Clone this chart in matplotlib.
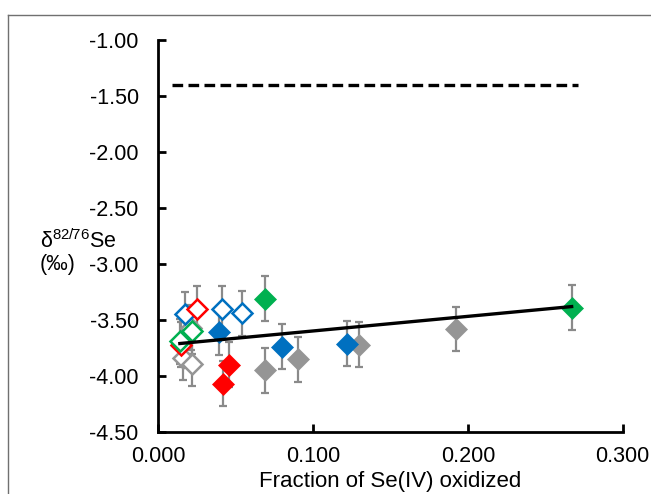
import matplotlib
matplotlib.use("Agg")
import matplotlib.pyplot as plt
from matplotlib.lines import Line2D

# --- data ---
blue_filled_x = [0.039, 0.080, 0.122]
blue_filled_y = [-3.61, -3.74, -3.71]
blue_open_x = [0.017, 0.041, 0.054]
blue_open_y = [-3.45, -3.40, -3.44]
red_filled_x = [0.042, 0.046]
red_filled_y = [-4.07, -3.90]
red_open_x = [0.025, 0.015]
red_open_y = [-3.40, -3.72]
green_filled_x = [0.069, 0.267]
green_filled_y = [-3.31, -3.39]
green_open_x = [0.014, 0.022]
green_open_y = [-3.69, -3.60]
gray_filled_x = [0.069, 0.090, 0.130, 0.192]
gray_filled_y = [-3.95, -3.85, -3.72, -3.58]
gray_open_x = [0.021, 0.016, 0.022]
gray_open_y = [-3.57, -3.84, -3.89]
err = 0.20

trend_x = [0.014, 0.267]
trend_y = [-3.71, -3.38]
ref_x = [0.009, 0.271]
ref_y = [-1.40, -1.40]

x_ticks = [0.0, 0.1, 0.2, 0.3]
y_ticks = [-4.5, -4.0, -3.5, -3.0, -2.5, -2.0, -1.5, -1.0]

BLUE = "#0070C0"
RED = "#FF0000"
GREEN = "#00B050"
GRAY = "#959595"
ERRC = "#8A8A8A"

plt.rcParams["font.family"] = ["Liberation Sans", "DejaVu Sans"]
plt.rcParams["mathtext.fontset"] = "custom"
plt.rcParams["mathtext.rm"] = "Liberation Sans"

fig = plt.figure(figsize=(6.51, 4.94), dpi=100)
ax = fig.add_axes([0.243, 0.1255, 0.7136, 0.7935])

# error bars first, markers on top
all_x = (blue_filled_x + blue_open_x + red_filled_x + red_open_x + green_filled_x
         + green_open_x + gray_filled_x + gray_open_x)
all_y = (blue_filled_y + blue_open_y + red_filled_y + red_open_y + green_filled_y
         + green_open_y + gray_filled_y + gray_open_y)
ax.errorbar(all_x, all_y, yerr=err, fmt="none", ecolor=ERRC, elinewidth=1.6,
            capsize=3.2, capthick=1.6, zorder=2)

ax.plot(ref_x, ref_y, color="black", lw=2.4, ls=(0, (3.2, 1.6)), zorder=3)
ax.plot(trend_x, trend_y, color="black", lw=2.4, zorder=5)

def filled(x, y, c):
    ax.plot(x, y, "D", ms=11, color=c, mec=c, mew=0.5, ls="none", zorder=4)

def hollow(x, y, c):
    ax.plot(x, y, "D", ms=10, mfc="white", mec=c, mew=1.8, ls="none", zorder=4)

filled(gray_filled_x, gray_filled_y, GRAY)
hollow(gray_open_x, gray_open_y, GRAY)
filled(blue_filled_x, blue_filled_y, BLUE)
hollow(blue_open_x, blue_open_y, BLUE)
filled(red_filled_x, red_filled_y, RED)
hollow(red_open_x, red_open_y, RED)
hollow(green_open_x, green_open_y, GREEN)
filled(green_filled_x, green_filled_y, GREEN)

ax.set_xlim(0, 0.3)
ax.set_ylim(-4.5, -1.0)
ax.set_xticks(x_ticks)
ax.set_yticks(y_ticks)
ax.set_xticklabels([f"{v:.3f}" for v in x_ticks])
ax.set_yticklabels([f"{v:.2f}" for v in y_ticks])
ax.tick_params(axis="both", direction="in", length=6, width=2, labelsize=15.5,
               color="black")
ax.tick_params(axis="y", pad=14)
ax.tick_params(axis="x", pad=10)

for s in ["top", "right"]:
    ax.spines[s].set_visible(False)
for s in ["left", "bottom"]:
    ax.spines[s].set_linewidth(2)
    ax.spines[s].set_color("black")

ax.set_xlabel("Fraction of Se(IV) oxidized", fontsize=16, labelpad=3)
fig.text(40 / 651, 1 - 241 / 494, r"δ$^{\mathrm{82/76}}$Se", fontsize=15.5,
         ha="left", va="center")
fig.text(40 / 651, 1 - 264 / 494, "(‰)", fontsize=15.5, ha="left", va="center")

# thin frame visible at left/top of the reference
fig.add_artist(Line2D([8 / 651, 8 / 651], [0, 1 - 15 / 494], color="#707070", lw=1))
fig.add_artist(Line2D([8 / 651, 1], [1 - 15 / 494, 1 - 15 / 494], color="#707070", lw=1))

fig.savefig("out.png", dpi=100)
